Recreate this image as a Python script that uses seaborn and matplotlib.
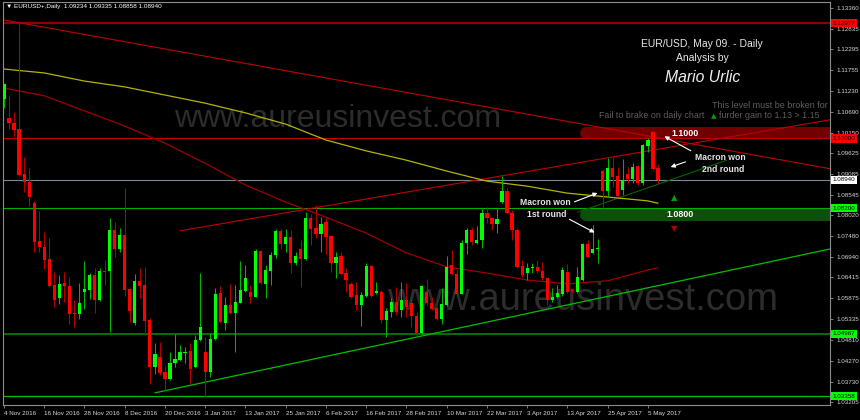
import numpy as np
import pandas as pd
import matplotlib
matplotlib.use("Agg")
import matplotlib.pyplot as plt
import matplotlib.transforms as mtransforms
import seaborn as sns

# --- Daily EURUSD candles, 4 Nov 2016 .. 9 May 2017 ---
opens = [1.1102, 1.1054, 1.1041, 1.1024, 1.0908, 1.0888, 1.0833, 1.0736, 1.0719, 1.0688,
         1.0621, 1.0589, 1.0627, 1.0620, 1.0550, 1.0547, 1.0603, 1.0609, 1.0648, 1.0583,
         1.0658, 1.0659, 1.0763, 1.0714, 1.0751, 1.0613, 1.0523, 1.0632, 1.0622, 1.0532,
         1.0410, 1.0437, 1.0399, 1.0379, 1.0420, 1.0429, 1.0446, 1.0452, 1.0411, 1.0480,
         1.0450, 1.0398, 1.0483, 1.0601, 1.0523, 1.0570, 1.0549, 1.0577, 1.0607, 1.0603,
         1.0592, 1.0710, 1.0625, 1.0659, 1.0699, 1.0761, 1.0727, 1.0745, 1.0678, 1.0715,
         1.0688, 1.0796, 1.0768, 1.0754, 1.0785, 1.0748, 1.0680, 1.0697, 1.0652, 1.0625,
         1.0596, 1.0570, 1.0594, 1.0671, 1.0602, 1.0605, 1.0532, 1.0553, 1.0579, 1.0558,
         1.0583, 1.0575, 1.0543, 1.0499, 1.0605, 1.0577, 1.0562, 1.0534, 1.0570, 1.0674,
         1.0651, 1.0599, 1.0730, 1.0764, 1.0731, 1.0738, 1.0807, 1.0794, 1.0780, 1.0837,
         1.0865, 1.0809, 1.0764, 1.0671, 1.0652, 1.0665, 1.0669, 1.0659, 1.0641, 1.0583,
         1.0592, 1.0600, 1.0656, 1.0609, 1.0605, 1.0635, 1.0728, 1.0705, 1.0714, 1.0917,
         1.0865, 1.0923, 1.0903, 1.0867, 1.0908, 1.0895, 1.0929, 1.0884, 1.0981, 1.1017,
         1.09234]
highs = [1.1142, 1.1110, 1.1067, 1.1299, 1.0953, 1.0923, 1.0839, 1.0814, 1.0758, 1.0743,
         1.0655, 1.0648, 1.0656, 1.0642, 1.0583, 1.0627, 1.0683, 1.0652, 1.0665, 1.0665,
         1.0687, 1.0795, 1.0784, 1.0768, 1.0872, 1.0615, 1.0651, 1.0665, 1.0669, 1.0536,
         1.0472, 1.0476, 1.0413, 1.0449, 1.0496, 1.0467, 1.0463, 1.0472, 1.0493, 1.0652,
         1.0489, 1.0498, 1.0614, 1.0620, 1.0592, 1.0624, 1.0622, 1.0684, 1.0673, 1.0622,
         1.0716, 1.0713, 1.0674, 1.0707, 1.0767, 1.0767, 1.0767, 1.0764, 1.0708, 1.0738,
         1.0811, 1.0805, 1.0828, 1.0798, 1.0794, 1.0752, 1.0708, 1.0708, 1.0665, 1.0631,
         1.0631, 1.0605, 1.0678, 1.0674, 1.0631, 1.0609, 1.0562, 1.0588, 1.0618, 1.0629,
         1.0627, 1.0592, 1.0553, 1.0621, 1.0638, 1.0592, 1.0566, 1.0614, 1.0697, 1.0712,
         1.0661, 1.0738, 1.0768, 1.0772, 1.0774, 1.0818, 1.0823, 1.0798, 1.0821, 1.0903,
         1.0871, 1.0816, 1.0768, 1.0687, 1.0678, 1.0678, 1.0687, 1.0682, 1.0643, 1.0614,
         1.0622, 1.0669, 1.0676, 1.0614, 1.0669, 1.0731, 1.0738, 1.0776, 1.0742, 1.0920,
         1.0949, 1.0952, 1.0927, 1.0946, 1.0927, 1.0936, 1.0932, 1.0987, 1.1000, 1.1022,
         1.09335]
lows = [1.1078, 1.1024, 1.1006, 1.0904, 1.0863, 1.0827, 1.0706, 1.0706, 1.0663, 1.0618,
        1.0566, 1.0574, 1.0579, 1.0522, 1.0513, 1.0534, 1.0559, 1.0585, 1.0549, 1.0581,
        1.0621, 1.0502, 1.0695, 1.0708, 1.0594, 1.0527, 1.0519, 1.0588, 1.0493, 1.0366,
        1.0393, 1.0390, 1.0351, 1.0377, 1.0411, 1.0427, 1.0420, 1.0369, 1.0407, 1.0478,
        1.0334, 1.0384, 1.0481, 1.0523, 1.0506, 1.0547, 1.0449, 1.0575, 1.0605, 1.0575,
        1.0591, 1.0625, 1.0588, 1.0622, 1.0691, 1.0716, 1.0708, 1.0654, 1.0674, 1.0618,
        1.0686, 1.0725, 1.0743, 1.0708, 1.0702, 1.0656, 1.0639, 1.0648, 1.0605, 1.0588,
        1.0558, 1.0516, 1.0592, 1.0592, 1.0600, 1.0523, 1.0489, 1.0540, 1.0545, 1.0540,
        1.0540, 1.0514, 1.0491, 1.0497, 1.0570, 1.0558, 1.0532, 1.0521, 1.0569, 1.0648,
        1.0596, 1.0598, 1.0702, 1.0725, 1.0729, 1.0717, 1.0781, 1.0764, 1.0757, 1.0833,
        1.0807, 1.0738, 1.0665, 1.0643, 1.0635, 1.0652, 1.0652, 1.0635, 1.0570, 1.0579,
        1.0588, 1.0594, 1.0602, 1.0601, 1.0601, 1.0633, 1.0694, 1.0703, 1.0678, 1.0820,
        1.0850, 1.0876, 1.0848, 1.0854, 1.0884, 1.0884, 1.0880, 1.0880, 1.0966, 1.0919,
        1.08858]
closes = [1.1140, 1.1039, 1.1022, 1.0906, 1.0887, 1.0848, 1.0734, 1.0719, 1.0687, 1.0620,
          1.0583, 1.0625, 1.0620, 1.0547, 1.0547, 1.0576, 1.0612, 1.0648, 1.0583, 1.0659,
          1.0656, 1.0763, 1.0714, 1.0752, 1.0609, 1.0556, 1.0632, 1.0620, 1.0529, 1.0410,
          1.0444, 1.0396, 1.0379, 1.0420, 1.0431, 1.0449, 1.0450, 1.0405, 1.0480, 1.0515,
          1.0398, 1.0483, 1.0599, 1.0527, 1.0570, 1.0549, 1.0578, 1.0609, 1.0641, 1.0591,
          1.0710, 1.0627, 1.0661, 1.0699, 1.0761, 1.0727, 1.0745, 1.0678, 1.0697, 1.0688,
          1.0796, 1.0767, 1.0754, 1.0780, 1.0747, 1.0680, 1.0695, 1.0651, 1.0635, 1.0592,
          1.0570, 1.0596, 1.0671, 1.0594, 1.0607, 1.0532, 1.0556, 1.0579, 1.0553, 1.0583,
          1.0566, 1.0543, 1.0499, 1.0620, 1.0576, 1.0560, 1.0534, 1.0573, 1.0669, 1.0650,
          1.0599, 1.0731, 1.0764, 1.0734, 1.0738, 1.0807, 1.0794, 1.0780, 1.0792, 1.0865,
          1.0809, 1.0764, 1.0669, 1.0648, 1.0665, 1.0668, 1.0659, 1.0639, 1.0583, 1.0592,
          1.0602, 1.0661, 1.0605, 1.0606, 1.0642, 1.0728, 1.0695, 1.0714, 1.0717, 1.0865,
          1.0923, 1.0901, 1.0852, 1.0893, 1.0895, 1.0927, 1.0884, 1.0983, 1.0996, 1.0920,
          1.08940]

# --- Time axis labels (every 8th bar) ---
date_ticks = [0, 8, 16, 24, 32, 40, 48, 56, 64, 72, 80, 88, 96, 104, 112, 120, 128]
date_labels = ["4 Nov 2016", "16 Nov 2016", "28 Nov 2016", "8 Dec 2016", "20 Dec 2016",
               "3 Jan 2017", "13 Jan 2017", "25 Jan 2017", "6 Feb 2017", "16 Feb 2017",
               "28 Feb 2017", "10 Mar 2017", "22 Mar 2017", "3 Apr 2017", "13 Apr 2017",
               "25 Apr 2017", "5 May 2017"]

# --- Moving averages, sampled off the chart ---
ma_bars = [0, 8, 16, 24, 32, 40, 48, 56, 64, 72, 80, 88, 96, 104, 112, 120, 128, 130]
ma_yellow = [1.1179, 1.1169, 1.1148, 1.1133, 1.1112, 1.1091, 1.1066, 1.1037, 1.0996,
             1.0968, 1.0944, 1.0916, 1.0890, 1.0877, 1.0859, 1.0849, 1.0839, 1.0833]
ma_red = [1.1130, 1.1110, 1.1071, 1.1032, 1.0988, 1.0936, 1.0880, 1.0836, 1.0797,
          1.0756, 1.0705, 1.0669, 1.0653, 1.0635, 1.0625, 1.0633, 1.0661, 1.0666]

# --- Trend lines (bar, price endpoints) ---
trend_down_x, trend_down_y = [-0.2, 164.2], [1.1306, 1.0922]
trend_up_x, trend_up_y = [35.0, 164.2], [1.0762, 1.1048]
support_x, support_y = [30.0, 164.2], [1.0344, 1.0715]
short_x, short_y = [114.1, 143.7], [1.0810, 1.0944]

# --- Price axis ---
price_ticks = [1.13360, 1.12835, 1.12295, 1.11755, 1.11230, 1.10690, 1.10150, 1.09625,
               1.09085, 1.08545, 1.08020, 1.07480, 1.06940, 1.06415, 1.05875, 1.05335,
               1.04810, 1.04270, 1.03730, 1.03205]
level_values = [1.12977, 1.10000, 1.08940, 1.08200, 1.04967, 1.03358]
level_labels = ["1.12977", "1.10000", "1.08940", "1.08200", "1.04967", "1.03358"]

df = pd.DataFrame({"open": opens, "high": highs, "low": lows, "close": closes})
df["bar"] = np.arange(len(df))
up = df["close"] >= df["open"]

sns.set_style("dark")
plt.rcParams["font.family"] = ["Liberation Sans", "DejaVu Sans"]

fig = plt.figure(figsize=(8.6, 4.2), dpi=100, facecolor="black")
ax = fig.add_axes([3 / 860, 15 / 420, 827 / 860, 403 / 420])
ax.set_facecolor("black")
ax.grid(False)

# watermarks
ax.text(66.4, 1.1050, "www.aureusinvest.com", fontsize=23, color="#2c2c2c",
        ha="center", va="center", zorder=0)
ax.text(115.0, 1.0583, "www.aureusinvest.com", fontsize=27.5, color="#2c2c2c",
        ha="center", va="center", zorder=0)

# level bands
ax.plot([115.7, 170], [1.1014, 1.1014], color="#730000", lw=8.6,
        solid_capstyle="round", zorder=1)
ax.plot([115.7, 170], [1.0803, 1.0803], color="#0c500c", lw=8.6,
        solid_capstyle="round", zorder=1)

# horizontal levels
ax.axhline(1.12977, color="#8b0000", lw=1.6, zorder=2)
ax.axhline(1.10000, color="#c00000", lw=0.8, zorder=2)
ax.axhline(1.08940, color="#778899", lw=0.8, zorder=2)
ax.axhline(1.08200, color="#00b000", lw=0.8, zorder=2)
ax.axhline(1.04967, color="#0a800a", lw=1.2, zorder=2)
ax.axhline(1.03358, color="#00c000", lw=0.9, zorder=2)

# trend lines
sns.lineplot(x=trend_down_x, y=trend_down_y, color="#c00000", lw=0.8, ax=ax, zorder=2)
sns.lineplot(x=trend_up_x, y=trend_up_y, color="#c00000", lw=0.8, ax=ax, zorder=2)
sns.lineplot(x=support_x, y=support_y, color="#00c000", lw=0.9, ax=ax, zorder=2)
sns.lineplot(x=short_x, y=short_y, color="#006400", lw=0.8, ax=ax, zorder=2)

# moving averages
sns.lineplot(x=ma_bars, y=ma_yellow, color="#b4b400", lw=0.9, ax=ax, zorder=2)
sns.lineplot(x=ma_bars, y=ma_red, color="#a00000", lw=0.9, ax=ax, zorder=2)

# candles
ax.vlines(df["bar"], df["low"], df["high"],
          colors=np.where(up, "#00b400", "#b40000"), lw=0.75, zorder=3)
body = (df["close"] - df["open"]).abs().clip(lower=0.00006)
ax.bar(df["bar"], body, bottom=df[["open", "close"]].min(axis=1), width=0.64,
       color=np.where(up, "#00ff00", "#ff0000"), lw=0, zorder=4)

# texts on chart
ax.text(0.004, 0.988, "\u25bc EURUSD+,Daily  1.09234 1.09335 1.08858 1.08940",
        transform=ax.transAxes, fontsize=4.6, color="white", va="center", ha="left")
ax.text(138.8, 1.1244, "EUR/USD, May 09. - Daily", fontsize=7.5, color="#e8e8e8",
        ha="center", va="center", zorder=6)
ax.text(138.8, 1.1207, "Analysis by", fontsize=7.5, color="#e8e8e8",
        ha="center", va="center", zorder=6)
ax.text(138.8, 1.1158, "Mario Urlic", fontsize=11.3, style="italic", color="#f0f0f0",
        ha="center", va="center", zorder=6)

ax.text(140.8, 1.1086, "This level must be broken for", fontsize=6.5, color="#5e5e5e",
        ha="left", va="center", zorder=6, clip_on=True)
ax.text(118.3, 1.1058, "Fail to brake on daily chart", fontsize=6.4, color="#5e5e5e",
        ha="left", va="center", zorder=6)
ax.text(142.2, 1.1058, "furder gain to 1.13 > 1.15", fontsize=6.4, color="#5e5e5e",
        ha="left", va="center", zorder=6, clip_on=True)
ax.text(141.0, 1.1058, "\u25b2", fontsize=5, color="#00a000", ha="center", va="center",
        family="DejaVu Sans", zorder=6)

ax.text(135.4, 1.1014, "1.1000", fontsize=6.4, color="white", fontweight="bold",
        ha="center", va="center", zorder=6)
ax.text(134.4, 1.0803, "1.0800", fontsize=6.4, color="white", fontweight="bold",
        ha="center", va="center", zorder=6)
ax.text(133.2, 1.0849, "\u25b2", fontsize=6, color="#00a000", ha="center", va="center",
        family="DejaVu Sans", zorder=6)
ax.text(133.2, 1.0769, "\u25bc", fontsize=6, color="#b00000", ha="center", va="center",
        family="DejaVu Sans", zorder=6)

note = dict(fontsize=6.2, color="#e6e6e6", fontweight="bold", ha="center", va="center", zorder=6)
ax.text(142.3, 1.0950, "Macron won", **note)
ax.text(142.9, 1.0919, "2nd round", **note)
ax.text(107.6, 1.0836, "Macron won", **note)
ax.text(107.8, 1.0805, "1st round", **note)

arrow = dict(arrowstyle="-|>", color="white", lw=0.8, mutation_scale=6)
ax.annotate("", xy=(130.8, 1.1009), xytext=(137.0, 1.0965), arrowprops=arrow, zorder=6)
ax.annotate("", xy=(132.0, 1.0924), xytext=(136.0, 1.0942), arrowprops=arrow, zorder=6)
ax.annotate("", xy=(118.5, 1.0862), xytext=(112.9, 1.0834), arrowprops=arrow, zorder=6)
ax.annotate("", xy=(117.9, 1.0754), xytext=(111.9, 1.0795), arrowprops=arrow, zorder=6)

# axes
ax.set_xlim(-0.2, 164.2)
ax.set_ylim(1.03127, 1.13519)
ax.yaxis.tick_right()
ax.set_yticks(price_ticks)
ax.set_yticklabels([f"{v:.5f}" for v in price_ticks])
ax.set_xticks(date_ticks)
ax.set_xticklabels(date_labels)
for lab in ax.get_xticklabels():
    lab.set_ha("left")
ax.tick_params(axis="y", colors="#909090", labelcolor="#d8d8d8", labelsize=4.5,
               length=2.5, width=0.6, pad=2, direction="out", right=True, left=False)
ax.tick_params(axis="x", colors="#909090", labelcolor="#d8d8d8", labelsize=4.5,
               length=2.5, width=0.6, pad=2, direction="out", bottom=True)
for s in ax.spines.values():
    s.set_color("#8c8c8c")
    s.set_linewidth(0.8)
ax.set_xlabel("")
ax.set_ylabel("")

# highlighted price labels on the right axis
trans = mtransforms.blended_transform_factory(ax.transAxes, ax.transData)
level_colors = ["#ff0000", "#ff0000", "#ffffff", "#00ff00", "#00ff00", "#00ff00"]
for val, lab, col in zip(level_values, level_labels, level_colors):
    ax.text(1.0035, val, lab, transform=trans, fontsize=4.5, color="black",
            ha="left", va="center", clip_on=False, zorder=10,
            bbox=dict(boxstyle="square,pad=0.25", fc=col, ec="none"))

fig.savefig("out.png", dpi=100, facecolor="black")
